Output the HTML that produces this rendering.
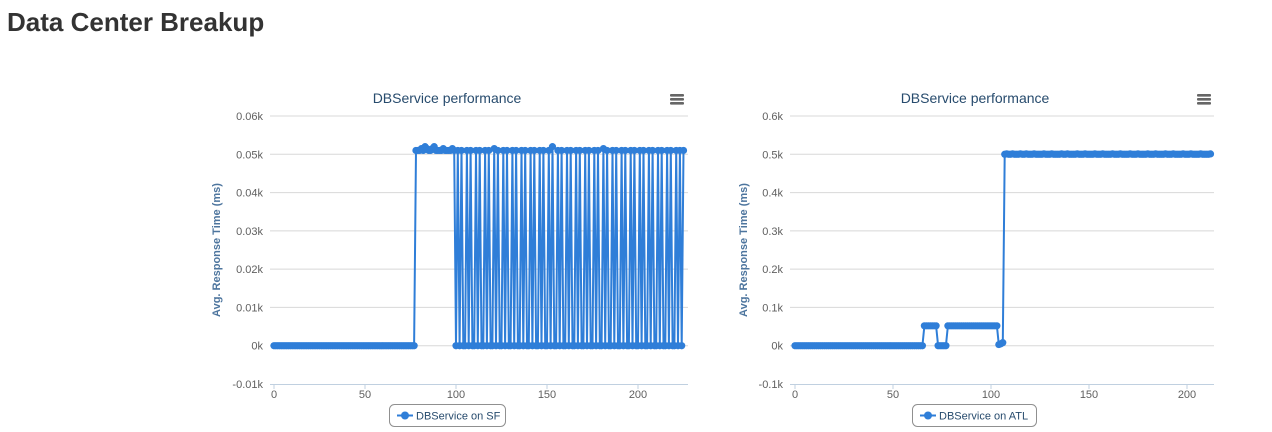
<!DOCTYPE html>
<html><head><meta charset="utf-8">
<style>
html,body{margin:0;padding:0;background:#fff;width:1272px;height:432px;overflow:hidden}
svg{display:block;font-family:"Liberation Sans",Arial,sans-serif}
</style></head>
<body>
<svg id="root" width="1272" height="432" viewBox="0 0 1272 432">
<text x="7" y="31" font-size="26" font-weight="bold" fill="#333">Data Center Breakup</text>
</svg>
<script>
// ---- data: SF chart ----
const sfYTicks = [-10, 0, 10, 20, 30, 40, 50, 60];
const sfYLabels = ["-0.01k","0k","0.01k","0.02k","0.03k","0.04k","0.05k","0.06k"];
const sfXTicks = [0, 50, 100, 150, 200];
const sfValues = [
0,0,0,0,0,0,0,0,0,0, 0,0,0,0,0,0,0,0,0,0, 0,0,0,0,0,0,0,0,0,0, 0,0,0,0,0,0,0,0,0,0,
0,0,0,0,0,0,0,0,0,0, 0,0,0,0,0,0,0,0,0,0, 0,0,0,0,0,0,0,0,0,0, 0,0,0,0,0,0,0,0,
51,51,51,51.5,51,52,51.5,51,51,51.5,52,51,51,51,51,51.5,51,51,51,51,51.5,51,
0,51,0,51,0, 0,51,0,51,0, 0,51,0,51,0, 0,51,0,51,0, 0,51.5,0,51,0,
0,51,0,51,0, 0,51,0,51,0, 0,51,0,51,0, 0,51,0,51,0, 0,51,0,51,0,
0,51,0,52,0, 0,51,0,51,0, 0,51,0,51,0, 0,51,0,51,0, 0,51,0,51,0,
0,51,0,51,0, 0,51.5,0,51,0, 0,51,0,51,0, 0,51,0,51,0, 0,51,0,51,0,
0,51,0,51,0, 0,51,0,51,0, 0,51,0,51,0, 0,51,0,51,0, 0,51,0,51,0,
51
];
// ---- data: ATL chart ----
const atlYTicks = [-100, 0, 100, 200, 300, 400, 500, 600];
const atlYLabels = ["-0.1k","0k","0.1k","0.2k","0.3k","0.4k","0.5k","0.6k"];
const atlXTicks = [0, 50, 100, 150, 200];
const atlValues = [
0,0,0,0,0,0,0,0,0,0, 0,0,0,0,0,0,0,0,0,0, 0,0,0,0,0,0,0,0,0,0, 0,0,0,0,0,0,0,0,0,0,
0,0,0,0,0,0,0,0,0,0, 0,0,0,0,0,0,0,0,0,0, 0,0,0,0,0,0,
52,52,52,52,52,52,52,
0,0,0,0,0,
52,52,52,52,52,52,52,52,52,52, 52,52,52,52,52,52,52,52,52,52, 52,52,52,52,52,52,
3,5,8,
500,501,500,500,501,500,500,500,501,500, 500,501,500,500,500,501,500,500,500,500,
501,500,500,500,501,500,500,500,500,501, 500,500,501,500,500,500,500,501,500,500,
500,501,500,500,500,500,501,500,500,500, 501,500,500,500,500,501,500,500,500,501,
500,500,500,500,501,500,500,500,501,500, 500,500,500,501,500,500,500,501,500,500,
500,500,501,500,500,500,501,500,500,500, 500,501,500,500,500,501,500,500,
500,500,501,500,500,500,500,501
];

const NS = "http://www.w3.org/2000/svg";
const root = document.getElementById('root');
function mk(tag, attrs, parent, txt){
  const e = document.createElementNS(NS, tag);
  for (const k in attrs) e.setAttribute(k, attrs[k]);
  if (txt !== undefined) e.textContent = txt;
  (parent||root).appendChild(e);
  return e;
}

function drawChart(cfg){
  const g = mk('g', {});
  
  
  const xS = v => cfg.x0 + (v - 0) * cfg.xk;
  const yMin = cfg.yTicks[0], yMax = cfg.yTicks[cfg.yTicks.length-1];
  const yS = v => cfg.yBot - (v - yMin) / (yMax - yMin) * (cfg.yBot - cfg.yTop);

  const t = mk('text', {x: cfg.cx, y: 103, 'font-size': 14, fill: '#274b6d', 'text-anchor': 'middle'}, g, 'DBService performance');
  
  

  const menu = mk('g', {}, g);
  
  
  for (let i = 0; i < 3; i++) mk('rect', {x: cfg.menuX, y: 94 + i*4, width: 14, height: 2.6, fill: '#666', rx: 1}, menu);

  cfg.yTicks.forEach((v, i) => {
    const y = yS(v);
    if (i > 0) {
      const gl = mk('line', {x1: cfg.pl, x2: cfg.pr, y1: y, y2: y, stroke: '#d8d8d8', 'stroke-width': 1}, g);
      
      
    }
    const lb = mk('text', {x: cfg.pl - 7, y: y + 4, 'font-size': 11, fill: '#606060', 'text-anchor': 'end'}, g, cfg.yLabels[i]);
    
    
  });
  const ax = mk('line', {x1: cfg.pl, x2: cfg.pr, y1: cfg.yBot + 0.5, y2: cfg.yBot + 0.5, stroke: '#c0d0e0', 'stroke-width': 1}, g);
  
  
  cfg.xTicks.forEach(v => {
    const x = xS(v);
    mk('line', {x1: x, x2: x, y1: cfg.yBot, y2: cfg.yBot + 5, stroke: '#c0d0e0'}, g);
    const lb = mk('text', {x: x, y: cfg.yBot + 14, 'font-size': 11, fill: '#606060', 'text-anchor': 'middle'}, g, String(v));
    
    
  });
  const yt = mk('text', {x: 0, y: 0, 'font-size': 11, 'font-weight': 'bold', fill: '#4d759e', 'text-anchor': 'middle',
    transform: `translate(${cfg.pl - cfg.ytOff},${(cfg.yTop + cfg.yBot)/2}) rotate(-90)`}, g, 'Avg. Response Time (ms)');
  
  

  const pts = cfg.values.map((v, i) => xS(i).toFixed(1) + ',' + yS(v).toFixed(1)).join(' ');
  const line = mk('polyline', {points: pts, fill: 'none', stroke: '#2f7ed8', 'stroke-width': 2, 'stroke-linejoin': 'round'}, g);
  
  
  cfg.values.forEach((v, i) => {
    const c = mk('circle', {cx: xS(i), cy: yS(v), r: 3.6, fill: '#2f7ed8'}, g);
    
    
  });

  const lg = mk('g', {}, g);
  
  
  mk('rect', {x: cfg.lx + 0.5, y: 404.5, width: cfg.lw, height: 22, rx: 5, fill: '#fff', stroke: '#909090'}, lg);
  mk('line', {x1: cfg.lx + 8, x2: cfg.lx + 24, y1: 415.5, y2: 415.5, stroke: '#2f7ed8', 'stroke-width': 2}, lg);
  mk('circle', {cx: cfg.lx + 16, cy: 415.5, r: 4, fill: '#2f7ed8'}, lg);
  mk('text', {x: cfg.lx + 27, y: 419.5, 'font-size': 11, fill: '#274b6d'}, lg, cfg.legend);
}

drawChart({name: 'chart-sf', values: sfValues, yTicks: sfYTicks, yLabels: sfYLabels, xTicks: sfXTicks,
  x0: 274, xk: 1.82, pl: 270, pr: 688, yTop: 116, yBot: 384, cx: 447, menuX: 670, ytOff: 50,
  lx: 389, lw: 116, legend: 'DBService on SF'});
drawChart({name: 'chart-atl', values: atlValues, yTicks: atlYTicks, yLabels: atlYLabels, xTicks: atlXTicks,
  x0: 795, xk: 1.96, pl: 790, pr: 1214, yTop: 116, yBot: 384, cx: 975, menuX: 1197, ytOff: 43,
  lx: 912, lw: 124, legend: 'DBService on ATL'});
</script>
</body></html>
